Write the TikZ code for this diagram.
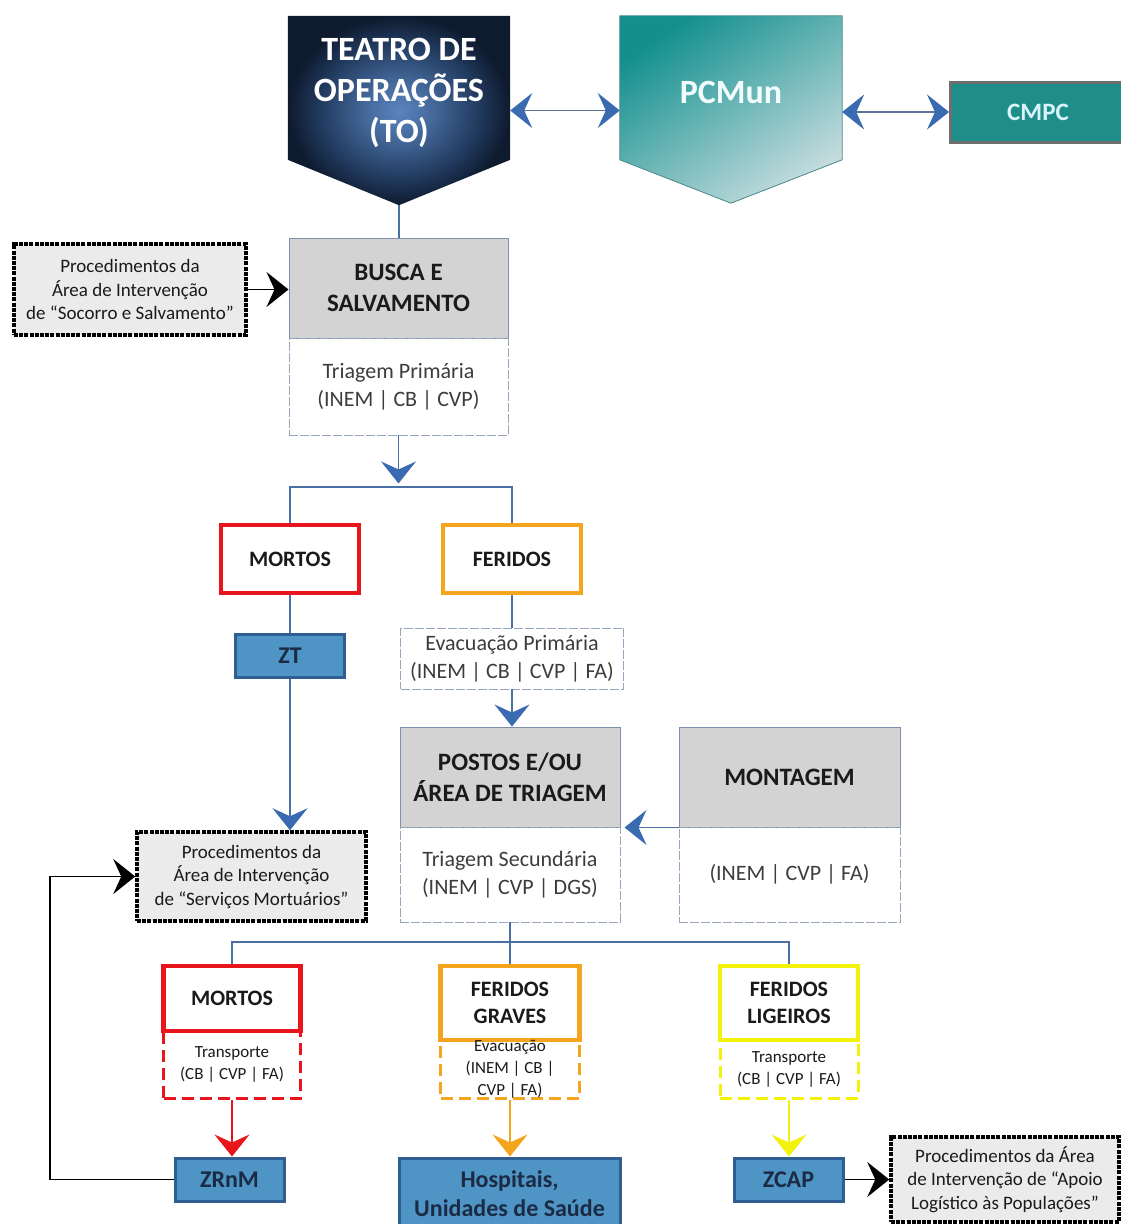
\documentclass[tikz,border=0pt]{standalone}
\usepackage{fontspec}
\setmainfont{Carlito}
\usetikzlibrary{arrows.meta,calc}
\definecolor{bl}{HTML}{4A6FA5}
\definecolor{blhead}{HTML}{3A6AB0}
\definecolor{hdrgray}{HTML}{D3D3D3}
\definecolor{hdrline}{HTML}{7D90AE}
\definecolor{procgray}{HTML}{EBEBEB}
\definecolor{zfill}{HTML}{4E94C4}
\definecolor{zline}{HTML}{2F5E92}
\definecolor{ztxt}{HTML}{1B2B45}
\definecolor{cred}{HTML}{E8161C}
\definecolor{corange}{HTML}{F5A41E}
\definecolor{cyellow}{HTML}{F2F20C}
\definecolor{txt}{HTML}{1A1A1A}
\definecolor{todark}{HTML}{0E1A2E}
\definecolor{tomid}{HTML}{213A5E}
\definecolor{tolight}{HTML}{5A85C0}
\definecolor{pcdark}{HTML}{13908E}
\definecolor{pclight}{HTML}{C5DCDF}
\definecolor{cmpcfill}{HTML}{1F8E89}
\definecolor{cmpcline}{HTML}{6E6E6E}
\pgfdeclareradialshading{toshade}{\pgfpoint{0bp}{0bp}}{color(0bp)=(tolight); color(8bp)=(tolight!60!tomid); color(18bp)=(tomid); color(25bp)=(todark); color(50bp)=(todark)}
\tikzset{
  bline/.style={draw=bl, line width=1.5pt},
  barrow/.style={-{Stealth[length=22pt,width=35pt,inset=8pt,color=blhead]}},
  dbarrow/.style={{Stealth[length=22pt,width=35pt,inset=8pt,color=blhead]}-{Stealth[length=22pt,width=35pt,inset=8pt,color=blhead]}},
  kline/.style={draw=black, line width=1.8pt},
  karrow/.style={-{Stealth[length=22pt,width=35pt,inset=8pt,color=black]}},
  carrow/.style={line width=1.5pt, -{Stealth[length=22pt,width=35pt,inset=8pt,color=#1]}, draw=#1},
  hdr/.style={draw=hdrline, line width=1pt, fill=hdrgray, inner sep=0pt, align=center, text=txt, font=\bfseries\fontsize{25}{31}\selectfont},
  bod/.style={draw=hdrline!80, line width=0.9pt, dash pattern=on 9pt off 2pt, inner sep=0pt, align=center, text=txt!85, font=\fontsize{22}{28}\selectfont},
  proc/.style={draw=black, line width=3.5pt, dash pattern=on 4pt off 1.2pt, fill=procgray, inner sep=0pt, align=center, text=txt, font=\fontsize{19}{23.5}\selectfont},
  cat/.style={line width=4.5pt, fill=white, inner sep=0pt, align=center, text=txt, font=\bfseries\fontsize{22}{27}\selectfont},
  catsub/.style={line width=3pt, dash pattern=on 12pt off 6pt, inner sep=0pt, align=center, text=txt, font=\fontsize{17}{22}\selectfont},
  zone/.style={draw=zline, line width=3pt, fill=zfill, inner sep=0pt, align=center, text=ztxt, font=\bfseries\fontsize{24}{29}\selectfont},
}
\begin{document}
\begin{tikzpicture}[x=1pt,y=-1pt]
\useasboundingbox (0,0) rectangle (1121,1224);
% top shapes
\node[inner sep=0pt, minimum width=222pt, minimum height=189pt] (to) at (399,110.5) {};
\shade[shading=toshade] (to.north west) -- (to.north east) -- ($(to.north east)+(0,144)$) -- (to.south) -- ($(to.north west)+(0,144)$) -- cycle;
\node[font=\bfseries\fontsize{34}{41}\selectfont, text=white, align=center] (tolbl) at ($(to)+(0,-18)$) {TEATRO DE\\OPERAÇÕES\\(TO)};
\node[inner sep=0pt, minimum width=222pt, minimum height=187pt] (pc) at (731,109.5) {};
\shade[top color=pcdark, bottom color=pclight, shading angle=35, draw=pcdark!50!gray, line width=0.8pt] (pc.north west) -- (pc.north east) -- ($(pc.north east)+(0,144)$) -- (pc.south) -- ($(pc.north west)+(0,144)$) -- cycle;
\node[font=\bfseries\fontsize{34}{41}\selectfont, text=white!95!cyan] (pclbl) at ($(pc)+(0,-17)$) {PCMun};
\node[draw=cmpcline, line width=3pt, fill=cmpcfill, minimum width=175pt, minimum height=60pt, inner sep=0pt, text=white!85!cyan, font=\bfseries\fontsize{25}{28}\selectfont] (cmpc) at (1038,112) {CMPC};
\draw[bline, draw=bl!70!gray, dbarrow] (to.east) -- (to.east -| pc.west);
\draw[bline, draw=bl!70!gray, dbarrow] (pc.east |- cmpc.west) -- (cmpc.west);
% busca
\node[hdr, minimum width=219pt, minimum height=100pt] (bushdr) at (398.5,288) {BUSCA E\\SALVAMENTO};
\node[bod, minimum width=219pt, minimum height=97pt] (busbod) at (398.5,386.5) {Triagem Primária\\(INEM | CB | CVP)};
\draw[bline] (to.south) -- (to.south |- bushdr.north);
\node[proc, minimum width=232pt, minimum height=91pt] (proc1) at (130,289.5) {Procedimentos da\\Área de Intervenção\\de “Socorro e Salvamento”};
\draw[kline, karrow] (proc1.east) -- (proc1.east -| bushdr.west);
% first split
\node[cat, draw=cred, minimum width=138pt, minimum height=68pt] (mortos) at (290,559) {MORTOS};
\node[cat, draw=corange, minimum width=138pt, minimum height=68pt] (feridos) at (512,559) {FERIDOS};
\draw[bline, barrow] (busbod.south) -- ++(0,48);
\draw[bline] (mortos.north) -- ++(0,-36) -| (feridos.north);
\node[zone, minimum width=109pt, minimum height=43pt] (zt) at (290,655.5) {ZT};
\draw[bline] (mortos.south) -- (zt.north);
\node[bod, minimum width=223pt, minimum height=61pt] (evac) at (512,658.5) {Evacuação Primária\\(INEM | CB | CVP | FA)};
\draw[bline] (feridos.south) -- (evac.north);
% postos / montagem
\node[hdr, minimum width=220pt, minimum height=100pt] (poshdr) at (510,777) {POSTOS E/OU\\ÁREA DE TRIAGEM};
\node[bod, minimum width=220pt, minimum height=95pt] (posbod) at (510,874.5) {Triagem Secundária\\(INEM | CVP | DGS)};
\node[hdr, minimum width=221pt, minimum height=100pt] (monhdr) at (789.5,777) {MONTAGEM};
\node[bod, minimum width=221pt, minimum height=95pt] (monbod) at (789.5,874.5) {(INEM | CVP | FA)};
\draw[bline, barrow] (evac.south) -- (evac.south |- poshdr.north);
\draw[bline, barrow, shorten >=4pt] (monhdr.south west) -- (poshdr.south east);
% proc2
\node[proc, minimum width=229pt, minimum height=89pt] (proc2) at (251.5,876.5) {Procedimentos da\\Área de Intervenção\\de “Serviços Mortuários”};
\draw[bline, barrow] (zt.south) -- (zt.south |- proc2.north);
% second split
\node[cat, draw=cred, minimum width=137pt, minimum height=65pt] (mor2) at (232,998.5) {MORTOS};
\node[catsub, draw=cred, minimum width=137pt, minimum height=67pt] (mor2b) at (232,1064.5) {Transporte\\(CB | CVP | FA)};
\node[cat, draw=corange, minimum width=139pt, minimum height=74pt] (grav) at (510,1003) {FERIDOS\\GRAVES};
\node[catsub, draw=corange, minimum width=139pt, minimum height=58pt] (gravb) at (510,1069) {Evacuação\\(INEM | CB |\\CVP | FA)};
\node[cat, draw=cyellow, minimum width=138pt, minimum height=74pt] (lig) at (789,1003) {FERIDOS\\LIGEIROS};
\node[catsub, draw=cyellow, minimum width=138pt, minimum height=58pt] (ligb) at (789,1069) {Transporte\\(CB | CVP | FA)};
\draw[bline] (posbod.south) -- (grav.north);
\draw[bline] (mor2.north) -- ++(0,-22) -| (lig.north);
% bottom
\node[zone, minimum width=109pt, minimum height=43pt] (zrnm) at (229.5,1179.5) {ZRnM};
\node[zone, minimum width=221pt, minimum height=72pt] (hosp) at (509.5,1194) {Hospitais,\\Unidades de Saúde};
\node[zone, minimum width=109pt, minimum height=43pt] (zcap) at (788.5,1179.5) {ZCAP};
\node[proc, minimum width=228pt, minimum height=85pt] (proc3) at (1005,1179.5) {Procedimentos da Área\\de Intervenção de “Apoio\\Logístico às Populações”};
\draw[carrow=cred] (mor2b.south) -- (mor2b.south |- zrnm.north);
\draw[carrow=corange] (gravb.south) -- (gravb.south |- hosp.north);
\draw[carrow=cyellow] (ligb.south) -- (ligb.south |- zcap.north);
\coordinate (lp) at (50,876.5);
\draw[kline, karrow] (zrnm.west) -| (lp) -- (proc2.west);
\draw[kline, karrow] (zcap.east) -- (proc3.west);
\end{tikzpicture}
\end{document}
